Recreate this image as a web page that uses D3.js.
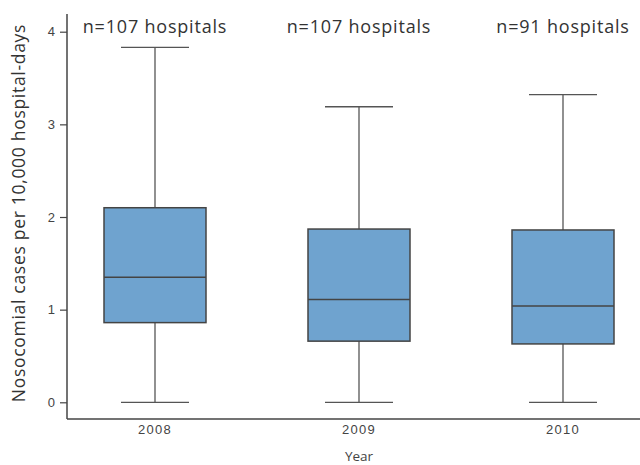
<!DOCTYPE html>
<html>
<head>
<meta charset="utf-8">
<script src="https://cdn.jsdelivr.net/npm/d3@7"></script>
<style>
  body { margin: 0; background: #fff; }
  svg { font-family: "Open Sans", "DejaVu Sans", sans-serif; }
</style>
</head>
<body>
<svg width="640" height="465"></svg>
<script>
const years = ["2008", "2009", "2010"];
const hospitals = ["n=107 hospitals", "n=107 hospitals", "n=91 hospitals"];
const mins = [0, 0, 0];
const q1s = [0.86, 0.66, 0.63];
const medians = [1.35, 1.11, 1.04];
const q3s = [2.10, 1.87, 1.86];
const maxs = [3.83, 3.19, 3.32];
const yTicks = [0, 1, 2, 3, 4];

const svg = d3.select("svg");
const width = +svg.attr("width");

const axisLeftX = 67;
const axisTop = 14;
const axisBottom = 419;

const x = d3.scaleBand()
    .domain(years)
    .range([53, 665])
    .paddingInner(0.5)
    .paddingOuter(0.25);

const y = d3.scaleLinear().domain([0, 4]).range([402.3, 31.7]);

const boxes = years.map((yr, i) => ({
    year: yr, label: hospitals[i],
    min: mins[i], q1: q1s[i], med: medians[i], q3: q3s[i], max: maxs[i]
}));

const ink = "#444";

// y axis
const yAxis = svg.append("g")
    .attr("transform", `translate(${axisLeftX},0)`)
    .call(d3.axisLeft(y).tickValues(yTicks).tickFormat(d3.format("d"))
        .tickSize(7).tickPadding(5).tickSizeOuter(0));
yAxis.select(".domain").remove();
yAxis.selectAll("line").attr("stroke", ink).attr("stroke-width", 1.2);
yAxis.selectAll("text").attr("fill", ink).style("font-size", "13px");

svg.append("line")
    .attr("x1", axisLeftX).attr("x2", axisLeftX)
    .attr("y1", axisTop).attr("y2", axisBottom)
    .attr("stroke", ink).attr("stroke-width", 1.5);

svg.append("line")
    .attr("x1", axisLeftX).attr("x2", width)
    .attr("y1", axisBottom).attr("y2", axisBottom)
    .attr("stroke", ink).attr("stroke-width", 1.5);

// x labels
const xAxis = svg.append("g")
    .attr("transform", `translate(0,${axisBottom})`)
    .call(d3.axisBottom(x).tickSize(0).tickPadding(6));
xAxis.select(".domain").remove();
xAxis.selectAll("text").attr("fill", ink).style("font-size", "13px").style("letter-spacing", "1.3px");

svg.append("text")
    .attr("x", x("2009") + x.bandwidth() / 2)
    .attr("y", 461)
    .attr("text-anchor", "middle")
    .attr("fill", ink)
    .style("font-size", "13.5px")
    .text("Year");

svg.append("text")
    .attr("transform", `translate(25,213) rotate(-90)`)
    .attr("text-anchor", "middle")
    .attr("fill", "#333")
    .style("font-size", "17.5px")
    .style("letter-spacing", "0.7px")
    .text("Nosocomial cases per 10,000 hospital-days");

// boxes
const g = svg.append("g").selectAll("g")
    .data(boxes)
    .join("g")
    .attr("transform", d => `translate(${x(d.year)},0)`);

const bw = x.bandwidth();
const capW = bw * 2 / 3;

g.append("line")
    .attr("x1", bw / 2).attr("x2", bw / 2)
    .attr("y1", d => y(d.max)).attr("y2", d => y(d.min))
    .attr("stroke", "#555").attr("stroke-width", 1.3);

g.append("line")
    .attr("x1", (bw - capW) / 2).attr("x2", (bw + capW) / 2)
    .attr("y1", d => y(d.max)).attr("y2", d => y(d.max))
    .attr("stroke", "#555").attr("stroke-width", 1.3);

g.append("line")
    .attr("x1", (bw - capW) / 2).attr("x2", (bw + capW) / 2)
    .attr("y1", d => y(d.min)).attr("y2", d => y(d.min))
    .attr("stroke", "#555").attr("stroke-width", 1.3);

g.append("rect")
    .attr("x", 0).attr("width", bw)
    .attr("y", d => y(d.q3))
    .attr("height", d => y(d.q1) - y(d.q3))
    .attr("fill", "#6fa3cf")
    .attr("stroke", ink).attr("stroke-width", 1.5);

g.append("line")
    .attr("x1", 0).attr("x2", bw)
    .attr("y1", d => y(d.med)).attr("y2", d => y(d.med))
    .attr("stroke", ink).attr("stroke-width", 1.5);

g.append("text")
    .attr("x", bw / 2)
    .attr("y", 33)
    .attr("text-anchor", "middle")
    .attr("fill", "#333")
    .style("font-size", "18px")
    .style("letter-spacing", "0.8px")
    .text(d => d.label);
</script>
</body>
</html>
